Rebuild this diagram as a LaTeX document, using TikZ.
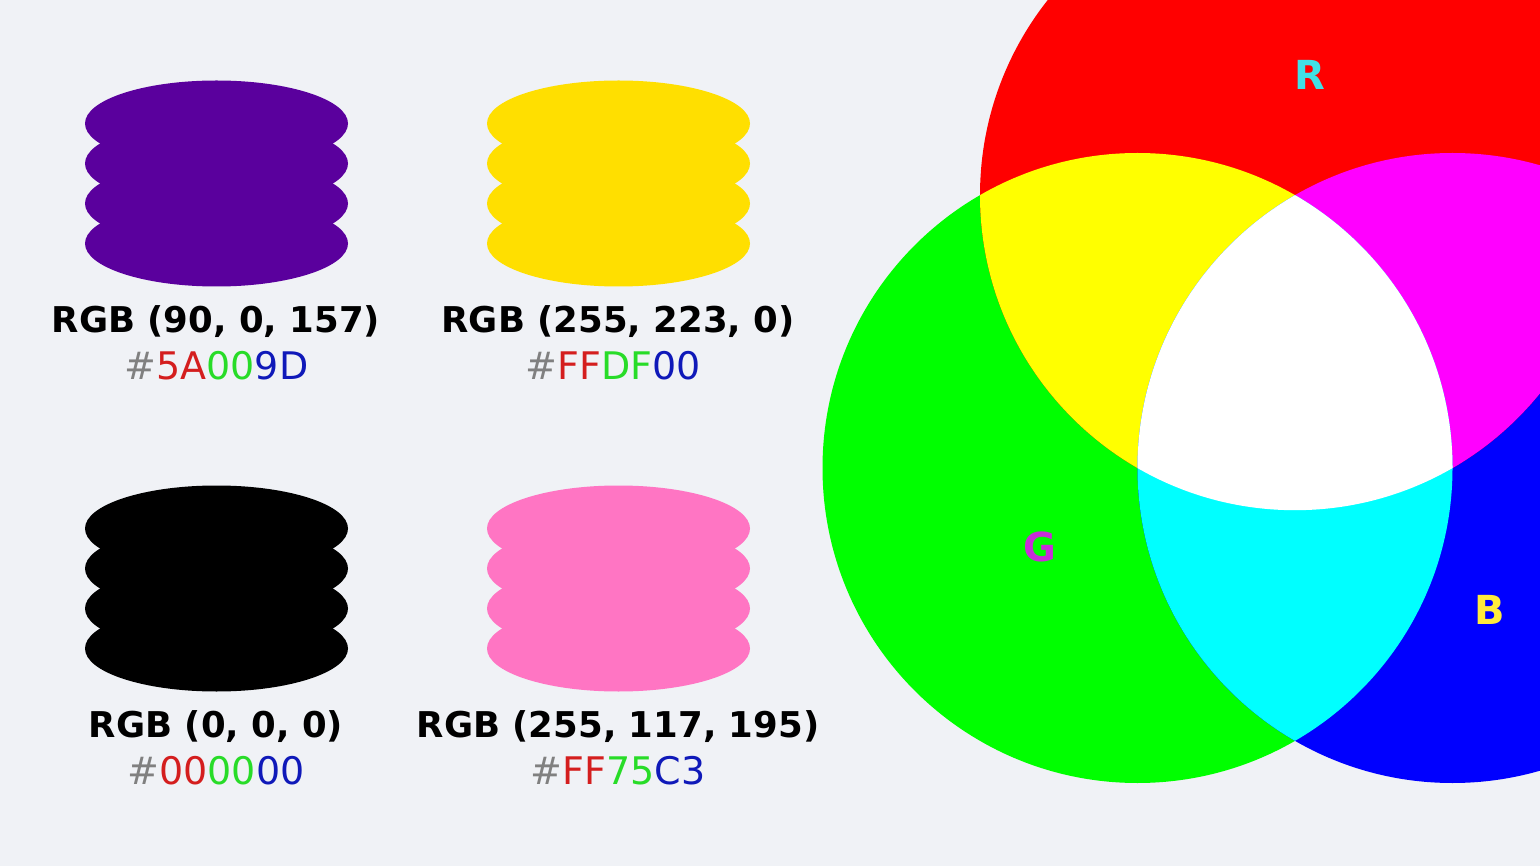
\documentclass[tikz,border=0pt]{standalone}
\usepackage{fontspec}
\setmainfont{DejaVu Sans}
\definecolor{bg}{RGB}{240,242,246}
\definecolor{cpurple}{HTML}{5A009D}
\definecolor{cyellow}{HTML}{FFDF00}
\definecolor{cpink}{HTML}{FF75C3}
\definecolor{hgray}{RGB}{128,128,128}
\definecolor{hred}{RGB}{212,30,30}
\definecolor{hgreen}{RGB}{40,220,40}
\definecolor{hblue}{RGB}{15,25,185}
\definecolor{lblR}{RGB}{64,224,230}
\definecolor{lblG}{RGB}{200,45,215}
\definecolor{lblB}{RGB}{255,235,60}
\definecolor{vR}{RGB}{255,0,0}
\definecolor{vG}{RGB}{0,255,0}
\definecolor{vB}{RGB}{0,0,255}
\definecolor{vY}{RGB}{255,255,0}
\definecolor{vM}{RGB}{255,0,255}
\definecolor{vC}{RGB}{0,255,255}
\definecolor{vW}{RGB}{255,255,255}
\newcommand\myblob[3]{%
  \foreach \dd in {-60,-20,20,60}{\fill[#3] (#1,#2+\dd) ellipse [x radius=131.5pt, y radius=43pt];}}
\newcommand\hx[4]{{\color{hgray}\#}{\color{hred}#1}{\color{hgreen}#2}{\color{hblue}#3}}
\tikzset{
  rgbtxt/.style={font=\bfseries\fontsize{35.5}{42}\selectfont, text=black, anchor=base, inner sep=0pt},
  hextxt/.style={font=\fontsize{38}{46}\selectfont, anchor=base, inner sep=0pt},
  vlabel/.style={font=\bfseries\fontsize{40}{48}\selectfont, anchor=center, inner sep=0pt},
}
\begin{document}
\begin{tikzpicture}[x=1pt,y=-1pt]
\fill[bg] (0,0) rectangle (1540,866);
\useasboundingbox (0,0) rectangle (1540,866);
% blobs
\myblob{216.5}{183.5}{cpurple}
\myblob{618.5}{183.5}{cyellow}
\myblob{216.5}{588.5}{black}
\myblob{618.5}{588.5}{cpink}
% labels
\node[rgbtxt] (t1) at (216,333) {RGB (90, 0, 157)};
\node[hextxt] (h1) at (216.5,380) {\hx{5A}{00}{9D}{}};
\node[rgbtxt] (t2) at (618,333) {RGB (255, 223, 0)};
\node[hextxt] (h2) at (613,380) {\hx{FF}{DF}{00}{}};
\node[rgbtxt] (t3) at (216,737) {RGB (0, 0, 0)};
\node[hextxt] (h3) at (216,784) {\hx{00}{00}{00}{}};
\node[rgbtxt] (t4) at (618,737) {RGB (255, 117, 195)};
\node[hextxt] (h4) at (618,784) {\hx{FF}{75}{C3}{}};
% Venn
\coordinate (Rc) at (1295,195.2);
\coordinate (Gc) at (1137.5,468);
\coordinate (Bc) at (1452.5,468);
\begin{scope}
\clip (0,0) rectangle (1540,866);
\fill[vG] (Gc) circle [radius=315pt];
\fill[vB] (Bc) circle [radius=315pt];
\fill[vR] (Rc) circle [radius=315pt];
\begin{scope}
\clip (Rc) circle [radius=315pt];
\fill[vY] (Gc) circle [radius=315pt];
\fill[vM] (Bc) circle [radius=315pt];
\end{scope}
\begin{scope}
\clip (Gc) circle [radius=315pt];
\fill[vC] (Bc) circle [radius=315pt];
\clip (Rc) circle [radius=315pt];
\fill[vW] (Bc) circle [radius=315pt];
\end{scope}
\end{scope}
\node[vlabel, text=lblR] (lR) at (1310,75) {R};
\node[vlabel, text=lblG] (lG) at (1040,547) {G};
\node[vlabel, text=lblB] (lB) at (1490,610) {B};
\end{tikzpicture}
\end{document}
